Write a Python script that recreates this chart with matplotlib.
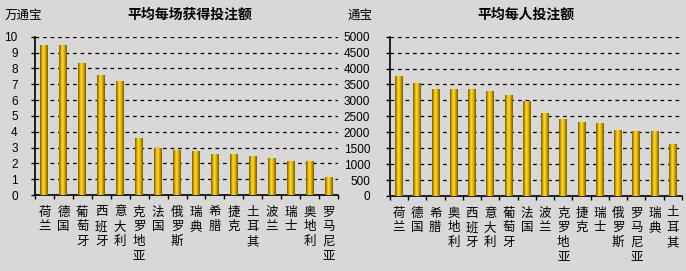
import numpy as np
import matplotlib
matplotlib.use('Agg')
import matplotlib.pyplot as plt
from matplotlib.colors import LinearSegmentedColormap

plt.rcParams['font.family'] = ['Noto Sans CJK SC', 'DejaVu Sans']

# left chart: average stake per match (10k tongbao)
left_countries = ['荷兰', '德国', '葡萄牙', '西班牙', '意大利', '克罗地亚', '法国', '俄罗斯',
                  '瑞典', '希腊', '捷克', '土耳其', '波兰', '瑞士', '奥地利', '罗马尼亚']
left_values = [9.5, 9.5, 8.37, 7.6, 7.23, 3.57, 2.98, 2.83, 2.77, 2.58, 2.58, 2.45, 2.35, 2.16, 2.16, 1.15]
left_ticks = list(range(0, 11))

# right chart: average stake per person (tongbao)
right_countries = ['荷兰', '德国', '希腊', '奥地利', '西班牙', '意大利', '葡萄牙', '法国',
                   '波兰', '克罗地亚', '捷克', '瑞士', '俄罗斯', '罗马尼亚', '瑞典', '土耳其']
right_values = [3760, 3550, 3365, 3365, 3365, 3300, 3165, 2990, 2610, 2425, 2320, 2300, 2070, 2040, 2040, 1630]
right_ticks = list(range(0, 5001, 500))

bg = '#d8d8d8'
gold = LinearSegmentedColormap.from_list('gold', ['#7a5c00', '#c89a00', '#ffdc30', '#f0c000', '#b88c00', '#7a5c00'])

fig = plt.figure(figsize=(6.86, 2.71), dpi=100, facecolor=bg)
W, H = 686, 271


def panel(rect, names, values, ticks, pad):
    ax = fig.add_axes(rect)
    ax.set_facecolor('none')
    x = np.arange(len(names))
    bars = ax.bar(x, values, width=0.42, color='#e0b000', edgecolor='none', zorder=3)
    grad = np.linspace(0, 1, 64).reshape(1, -1)
    for b in bars:
        im = ax.imshow(grad, cmap=gold, aspect='auto', zorder=3.5,
                       extent=(b.get_x(), b.get_x() + b.get_width(), 0, b.get_height()))
        im.set_clip_path(b)
    ax.set_yticks(ticks)
    ax.set_yticklabels([str(t) for t in ticks], family='Liberation Sans', fontsize=8.5)
    for t in ticks[1:]:
        ax.axhline(t, color='black', lw=0.9, ls=(0, (3, 3)), zorder=2)
    ax.spines['top'].set_visible(False)
    ax.spines['right'].set_visible(False)
    for s in ('left', 'bottom'):
        ax.spines[s].set_linewidth(1.2)
    ax.tick_params(axis='y', length=3, width=1, pad=pad)
    ax.set_xticks([])
    ax.set_xticks(np.arange(len(names) + 1) - 0.5, minor=True)
    ax.tick_params(axis='x', which='minor', length=3, width=1)
    for i, name in enumerate(names):
        for j, ch in enumerate(name):
            ax.annotate(ch, xy=(i, 0), xycoords=('data', 'axes fraction'),
                        xytext=(0, -17 - j * 14.7), textcoords='offset pixels',
                        ha='center', va='center', fontsize=9)
    ax.set_xlim(-0.5, len(names) - 0.5)
    ax.set_ylim(ticks[0], ticks[-1])
    return ax


panel([35 / W, 1 - 195 / H, 303 / W, (195 - 36.7) / H], left_countries, left_values, left_ticks, 9.5)
panel([389.7 / W, 1 - 196 / H, 292.3 / W, (196 - 36.7) / H], right_countries, right_values, right_ticks, 11)

fig.text(190 / W, 1 - 15 / H, '平均每场获得投注额', ha='center', va='center', fontsize=10, fontweight='bold')
fig.text(526 / W, 1 - 15 / H, '平均每人投注额', ha='center', va='center', fontsize=10, fontweight='bold')
fig.text(5 / W, 1 - 15 / H, '万通宝', ha='left', va='center', fontsize=9)
fig.text(348 / W, 1 - 15 / H, '通宝', ha='left', va='center', fontsize=9)

fig.savefig('out.png', dpi=100, facecolor=bg)
